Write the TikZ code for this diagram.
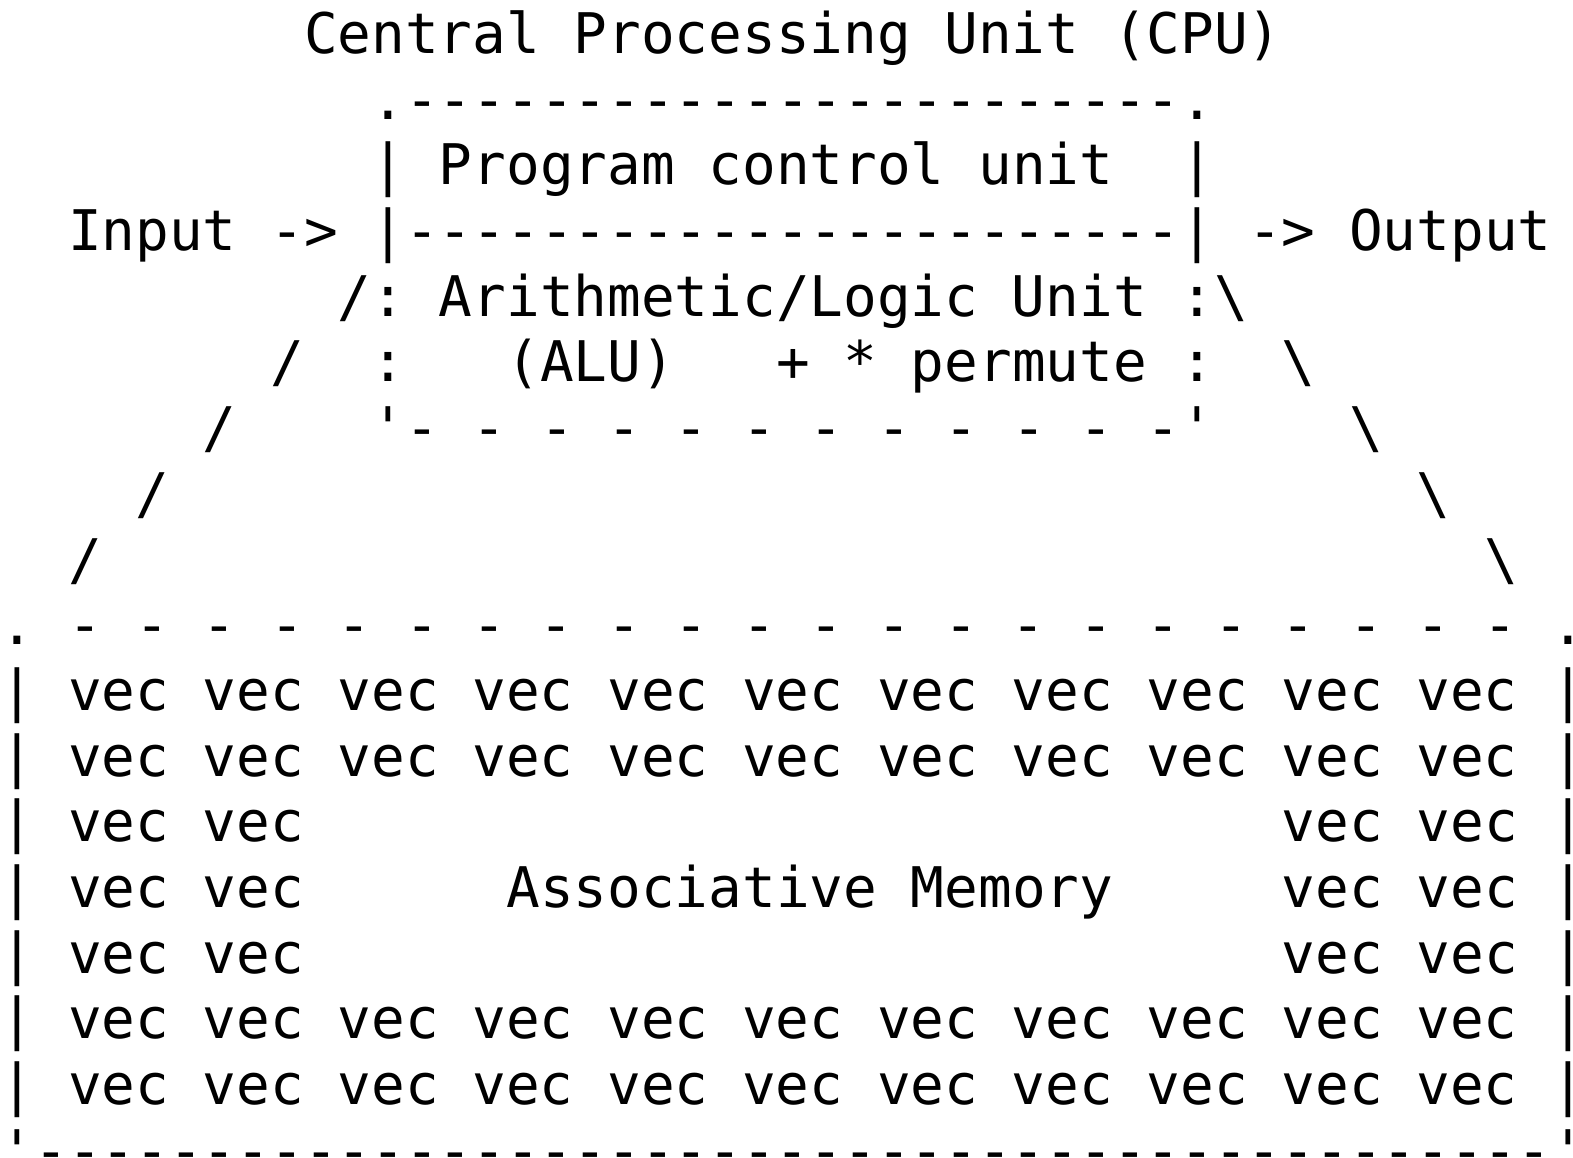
\documentclass[tikz,border=0pt]{standalone}
\usepackage{fontspec}
\setmonofont{DejaVu Sans Mono}
\ExplSyntaxOn
\cs_new:Npn \asciirep #1#2 { \prg_replicate:nn {#1} {#2} }
\ExplSyntaxOff
\begin{document}
\begin{tikzpicture}[x=1pt,y=1pt,
  declare function={cx(\c)=0.6+\c*33.715; ly(\l)=1104.5-\l*65.7;},
  ascii/.style={anchor=base west, inner sep=0pt, outer sep=0pt,
    font=\ttfamily\fontsize{56}{65.7}\selectfont\frenchspacing}]
\fill[white] (0,0) rectangle (1573,1158);
\useasboundingbox (0,0) rectangle (1573,1158);
% CPU
\node[ascii] (title)  at ({cx(9)},{ly(0)})  {Central Processing Unit (CPU)};
\node[ascii] (pcutop) at ({cx(11)},{ly(1)}) {.\asciirep{23}{-}.};
\node[ascii] (pcul)   at ({cx(11)},{ly(2)}) {|};
\node[ascii] (pcu)    at ({cx(13)},{ly(2)}) {Program control unit};
\node[ascii] (pcur)   at ({cx(35)},{ly(2)}) {|};
\node[ascii] (input)  at ({cx(2)},{ly(3)})  {Input ->};
\node[ascii] (mid)    at ({cx(11)},{ly(3)}) {|\asciirep{23}{-}|};
\node[ascii] (output) at ({cx(37)},{ly(3)}) {-> Output};
\node[ascii] (alu1)   at ({cx(10)},{ly(4)}) {/: Arithmetic/Logic Unit :\textbackslash};
\node[ascii] (sl5)    at ({cx(8)},{ly(5)})  {/};
\node[ascii] (c5l)    at ({cx(11)},{ly(5)}) {:};
\node[ascii] (alu2)   at ({cx(15)},{ly(5)}) {(ALU)};
\node[ascii] (ops)    at ({cx(23)},{ly(5)}) {+ * permute :};
\node[ascii] (bs5)    at ({cx(38)},{ly(5)}) {\textbackslash};
\node[ascii] (sl6)    at ({cx(6)},{ly(6)})  {/};
\node[ascii] (alubot) at ({cx(11)},{ly(6)}) {'\asciirep{11}{- }-'};
\node[ascii] (bs6)    at ({cx(40)},{ly(6)}) {\textbackslash};
\node[ascii] (sl7)    at ({cx(4)},{ly(7)})  {/};
\node[ascii] (bs7)    at ({cx(42)},{ly(7)}) {\textbackslash};
\node[ascii] (sl8)    at ({cx(2)},{ly(8)})  {/};
\node[ascii] (bs8)    at ({cx(44)},{ly(8)}) {\textbackslash};
% Memory
\node[ascii] (memtop) at ({cx(0)},{ly(9)})  {. \asciirep{22}{- }.};
\node[ascii] (row1)   at ({cx(0)},{ly(10)}) {| \asciirep{11}{vec }|};
\node[ascii] (row2)   at ({cx(0)},{ly(11)}) {| \asciirep{11}{vec }|};
\node[ascii] (row3l)  at ({cx(0)},{ly(12)}) {| vec vec};
\node[ascii] (row3r)  at ({cx(38)},{ly(12)}) {vec vec |};
\node[ascii] (row4l)  at ({cx(0)},{ly(13)}) {| vec vec};
\node[ascii] (assoc)  at ({cx(15)},{ly(13)}) {Associative Memory};
\node[ascii] (row4r)  at ({cx(38)},{ly(13)}) {vec vec |};
\node[ascii] (row5l)  at ({cx(0)},{ly(14)}) {| vec vec};
\node[ascii] (row5r)  at ({cx(38)},{ly(14)}) {vec vec |};
\node[ascii] (row6)   at ({cx(0)},{ly(15)}) {| \asciirep{11}{vec }|};
\node[ascii] (row7)   at ({cx(0)},{ly(16)}) {| \asciirep{11}{vec }|};
\node[ascii] (membot) at ({cx(0)},{ly(17)}) {'\asciirep{45}{-}'};
\end{tikzpicture}
\end{document}
